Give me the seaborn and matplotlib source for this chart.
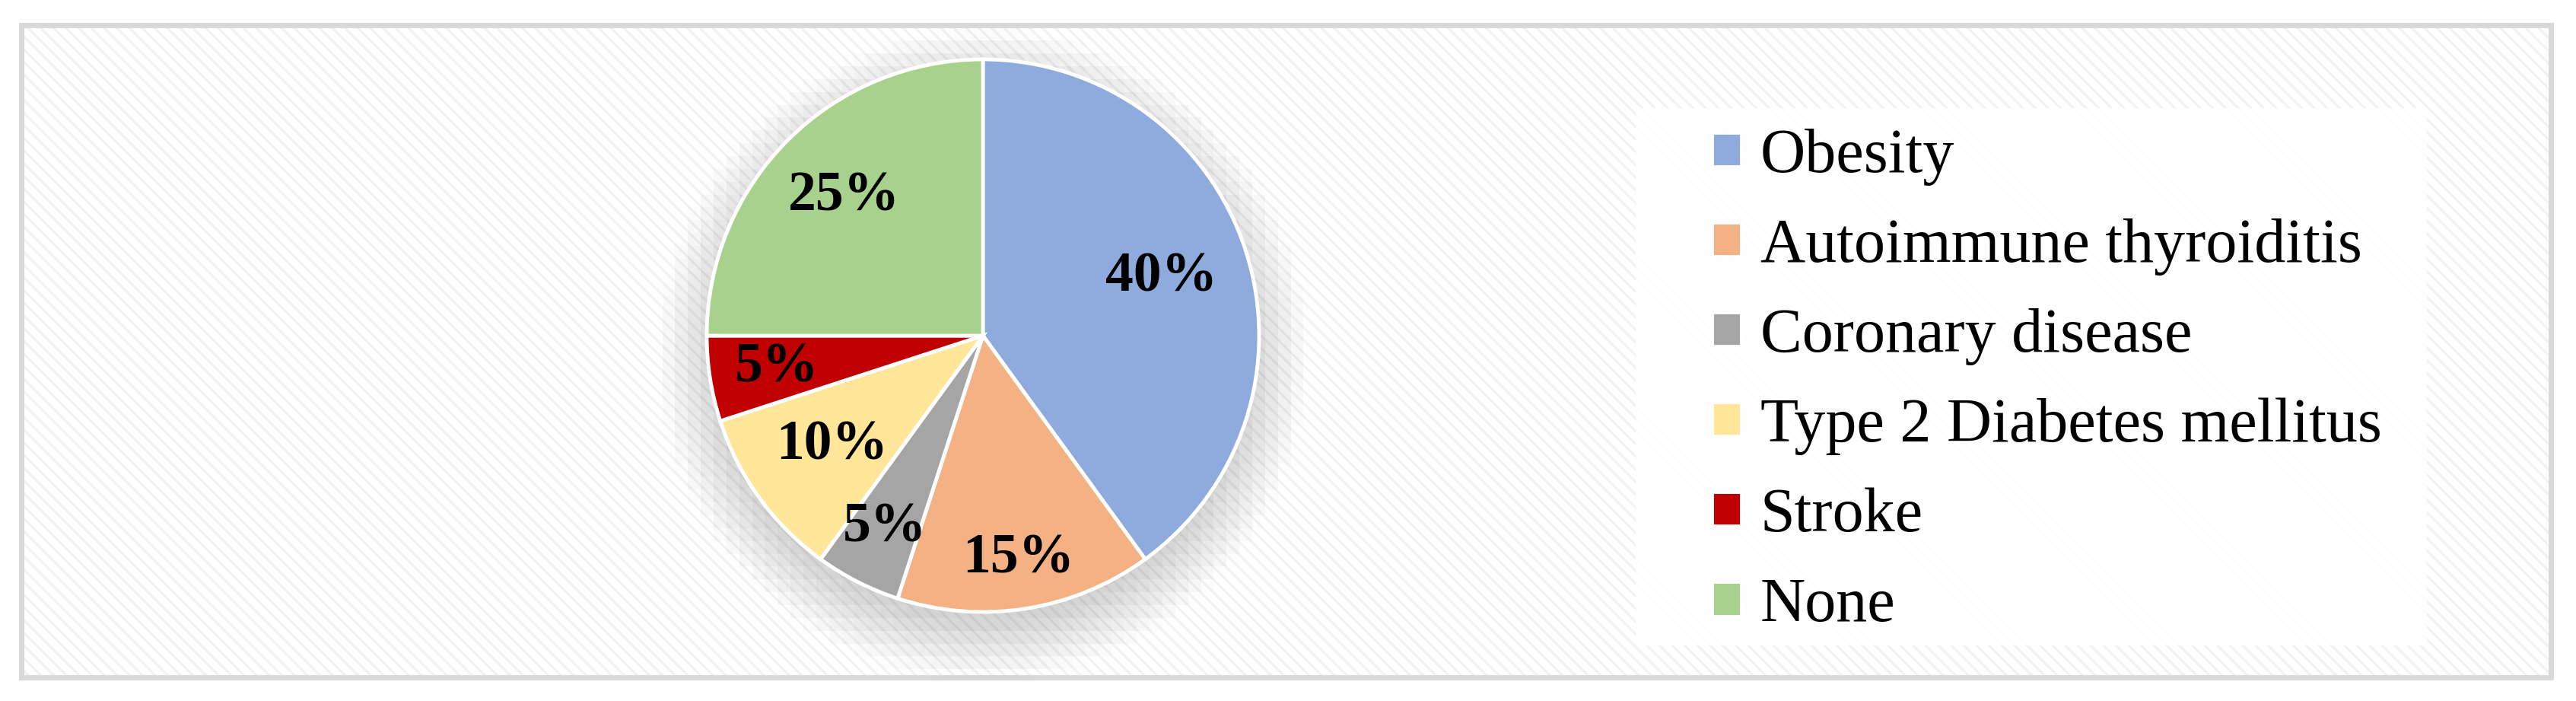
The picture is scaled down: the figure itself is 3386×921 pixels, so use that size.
import numpy as np
import matplotlib
matplotlib.use("Agg")
import matplotlib.pyplot as plt
from matplotlib.patches import Rectangle
import seaborn as sns

# Comorbidities (share of patients, %)
categories = ["Obesity", "Autoimmune thyroiditis", "Coronary disease",
              "Type 2 Diabetes mellitus", "Stroke", "None"]
shares = [40, 15, 5, 10, 5, 25]
colors = ["#8FAADC", "#F4B183", "#A5A5A5", "#FFE699", "#C00000", "#A9D18E"]

sns.set_theme(style="white")
plt.rcParams["font.family"] = ["Liberation Serif", "DejaVu Serif"]
plt.rcParams["hatch.linewidth"] = 2.2

W, H = 3387, 921
fig = plt.figure(figsize=(W / 100, H / 100), dpi=100)
fig.patch.set_facecolor("white")

# background panel in pixel coordinates
bg = fig.add_axes([0, 0, 1, 1])
bg.set_xlim(0, W)
bg.set_ylim(H, 0)
bg.axis("off")
bg.add_patch(Rectangle((28, 33), 3325, 857, facecolor="white", edgecolor="#f2f2f2",
                       hatch="\\\\", linewidth=0, zorder=0))
bg.add_patch(Rectangle((28, 33), 3325, 857, facecolor="none", edgecolor="#d9d9d9",
                       linewidth=5, zorder=1))
bg.add_patch(Rectangle((2150, 142), 1040, 706, facecolor="white", edgecolor="none",
                       alpha=0.92, zorder=2))

# pie axes: 1 data unit = 363 px, centred at (1292, 441)
R = 363
cx, cy = 1292, 441
span = 1.3
side = 2 * span * R
ax = fig.add_axes([(cx - side / 2) / W, (H - cy - side / 2) / H, side / W, side / H])

# soft blocky shadow behind the pie
n = 56
g = np.linspace(-span, span, n)
xx, yy = np.meshgrid(g, g)
d = np.sqrt(xx ** 2 + (yy + 0.07) ** 2)
a = np.clip((1.2 - d) / 0.22, 0, 1) * 0.17
shadow = np.zeros((n, n, 4))
shadow[..., 3] = a
ax.imshow(shadow, extent=(-span, span, -span, span), origin="lower",
          interpolation="nearest", zorder=0)

wedges, _ = ax.pie(shares, colors=colors, startangle=90, counterclock=False,
                   wedgeprops=dict(edgecolor="white", linewidth=3.5),
                   radius=1.0)
for w in wedges:
    w.set_zorder(2)

label_r = [0.68, 0.82, 0.78, 0.675, 0.755, 0.71]
for w, v, r in zip(wedges, shares, label_r):
    ang = np.deg2rad((w.theta1 + w.theta2) / 2)
    ax.text(r * np.cos(ang), r * np.sin(ang), f"{v}%", ha="center", va="center",
            fontsize=53, fontweight="bold", color="black", zorder=3)
ax.set_xlim(-span, span)
ax.set_ylim(-span, span)
ax.axis("off")

fs = 59
fig.legend(wedges, categories, loc="upper left", bbox_to_anchor=(2250 / W, 1 - 168 / H),
           frameon=False, fontsize=fs, labelcolor="black", handlelength=0.475,
           handleheight=0.475, handletextpad=0.3, labelspacing=0.52, borderpad=0,
           borderaxespad=0)

fig.savefig("out.png", dpi=100)
